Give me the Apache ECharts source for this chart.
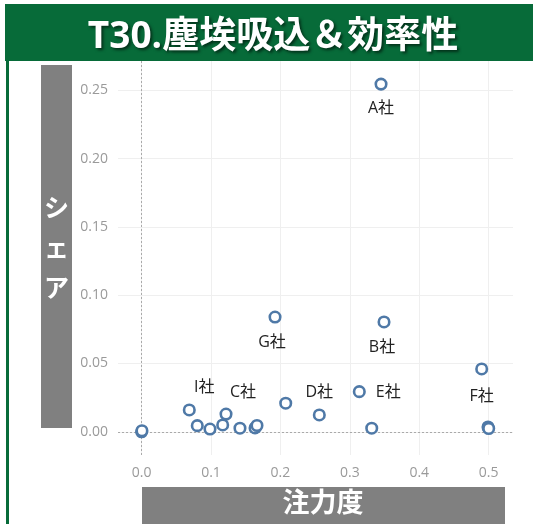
<!doctype html>
<html>
<head>
<meta charset="UTF-8">
<title>T30</title>
<script src="https://cdn.jsdelivr.net/npm/echarts@6/dist/echarts.min.js"></script>
<style>
  html, body { margin: 0; padding: 0; background: #fff; }
  #main { width: 533px; height: 524px; }
</style>
</head>
<body>
<div id="main"></div>
<script type="text/javascript">
// 注力度 (x) / シェア (y) / 社名
var focusVals = [0.3449, 0.1922, 0.3492, 0.4899, 0.3136, 0.2560, 0.1216, 0.0687,
                 0.0, 0.0005, 0.0802, 0.0985, 0.1168, 0.1417, 0.1634, 0.1662,
                 0.2076, 0.3315, 0.4990, 0.5000];
var shareVals = [0.2546, 0.0840, 0.0804, 0.0460, 0.0294, 0.0123, 0.0130, 0.0160,
                 0.0, 0.0008, 0.0045, 0.0020, 0.0050, 0.0026, 0.0028, 0.0046,
                 0.0209, 0.0026, 0.0035, 0.0024];
var names = ['A社', 'G社', 'B社', 'F社', 'E社', 'D社', 'C社', 'I社',
             '', '', '', '', '', '', '', '',
             '', '', '', ''];
var xTicks = [0, 0.1, 0.2, 0.3, 0.4, 0.5];
var yTicks = [0, 0.05, 0.1, 0.15, 0.2, 0.25];

// ラベル位置 (点からのずれ)
var labelOffsets = {
  'A社': [0, 24], 'G社': [-3, 25], 'B社': [-2, 25], 'F社': [0, 27],
  'E社': [29, 1], 'D社': [0, -23], 'C社': [17, -22], 'I社': [15, -22]
};

var points = focusVals.map(function (x, i) {
  var item = { value: [x, shareVals[i]], name: names[i] };
  if (names[i]) {
    item.label = { show: true, position: 'inside', offset: labelOffsets[names[i]] };
  }
  return item;
});

var myChart = echarts.init(document.getElementById('main'));

var gridColor = '#efefef';
var labelColor = '#9a9a9a';

var option = {
  animation: false,
  title: {
    text: 'T30.塵埃吸込＆効率性',
    left: 268,
    top: 32,
    textAlign: 'center',
    textVerticalAlign: 'middle',
    textStyle: {
      color: '#fff',
      fontSize: 37,
      fontWeight: 'bold',
      fontFamily: "'Open Sans', 'Noto Sans CJK JP', sans-serif",
      textShadowColor: 'rgba(0,0,0,0.55)',
      textShadowBlur: 3,
      textShadowOffsetX: 2,
      textShadowOffsetY: 2
    },
    z: 20
  },
  graphic: [
    { type: 'rect', left: 5, top: 4, z: 10, shape: { width: 528, height: 57 }, style: { fill: '#076b39' } },
    { type: 'rect', left: 6, top: 4, z: 10, shape: { width: 3, height: 520 }, style: { fill: '#076b39' } },
    { type: 'rect', left: 41, top: 65, z: 10, shape: { width: 31, height: 363 }, style: { fill: '#808080' } },
    {
      type: 'text', z: 11,
      style: {
        text: 'シ\nェ\nア', fill: '#fff', fontSize: 25, fontWeight: 'bold', lineHeight: 40,
        fontFamily: "'Noto Sans CJK JP', sans-serif", align: 'center', verticalAlign: 'middle',
        x: 56.5, y: 247
      }
    },
    { type: 'rect', left: 142, top: 487, z: 10, shape: { width: 363, height: 37 }, style: { fill: '#808080' } },
    {
      type: 'text', z: 11,
      style: {
        text: '注力度', fill: '#fff', fontSize: 27, fontWeight: 'bold',
        fontFamily: "'Noto Sans CJK JP', sans-serif", align: 'center', verticalAlign: 'middle',
        x: 323, y: 502
      }
    }
  ],
  grid: {
    left: 118,
    right: 20,
    top: 61,
    bottom: 69
  },
  xAxis: {
    type: 'value',
    min: -0.034,
    max: 0.535,
    axisLine: { show: false },
    axisTick: { show: true, length: 8, lineStyle: { color: gridColor }, customValues: xTicks },
    axisLabel: {
      customValues: xTicks, margin: 11, color: labelColor, fontSize: 14,
      fontFamily: "'Open Sans', sans-serif",
      formatter: function (v) { return v.toFixed(1); }
    },
    splitLine: { show: true, lineStyle: { color: gridColor } }
  },
  yAxis: {
    type: 'value',
    min: -0.017,
    max: 0.2715,
    axisLine: { show: false },
    axisTick: { show: true, length: 8, lineStyle: { color: gridColor }, customValues: yTicks },
    axisLabel: {
      customValues: yTicks, margin: 10, color: labelColor, fontSize: 14,
      fontFamily: "'Open Sans', sans-serif",
      formatter: function (v) { return v.toFixed(2); }
    },
    splitLine: { show: true, lineStyle: { color: gridColor } }
  },
  series: [{
    type: 'scatter',
    data: points,
    symbol: 'circle',
    symbolSize: 10.5,
    itemStyle: { color: '#fff', borderColor: '#4f79a7', borderWidth: 2.6, opacity: 1 },
    label: {
      color: '#222',
      fontSize: 16,
      fontFamily: "'Open Sans', 'Noto Sans CJK JP', sans-serif",
      formatter: '{b}'
    },
    markLine: {
      silent: true,
      symbol: 'none',
      label: { show: false },
      lineStyle: { color: '#aaaaaa', type: [2, 2], width: 1 },
      data: [{ xAxis: 0 }, { yAxis: 0 }],
      z: 1
    }
  }]
};

myChart.setOption(option);
</script>
</body>
</html>
